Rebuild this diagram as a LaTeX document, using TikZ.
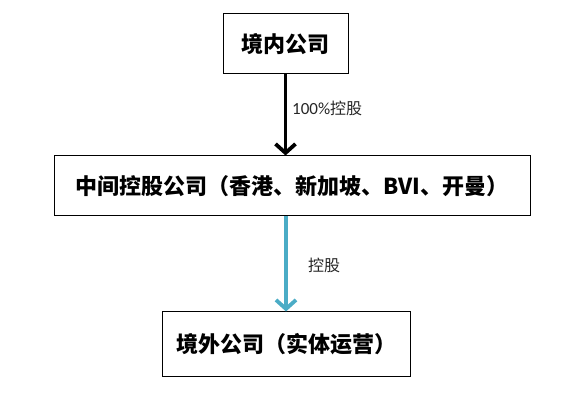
\documentclass[tikz,border=0pt]{standalone}
\usepackage{fontspec}
\setmainfont{Carlito}
\newfontfamily\cjk{Noto Sans CJK SC}
\usetikzlibrary{positioning, arrows.meta}

\definecolor{linkBlue}{HTML}{4BACC6}

\begin{document}
\begin{tikzpicture}[
    x=1pt, y=1pt,
    % Global Styles
    font=\cjk,
    % The company boxes
    company/.style={
        draw=black,
        line width=1pt,
        fill=white,
        inner sep=0pt,
        font=\cjk\bfseries\fontsize{22}{26}\selectfont
    },
    % Ownership arrows
    holding/.style={
        line width=3.8pt,
        -{Straight Barb[length=9pt, width=20pt]}
    },
    % Share labels on the arrows
    share/.style={
        anchor=west,
        inner sep=0pt,
        text=black!85,
        font=\fontsize{16}{18}\selectfont
    }
]

    % --- Canvas ---
    \useasboundingbox (0,0) rectangle (579,395);

    % --- Companies ---
    \node[company, minimum width=125pt, minimum height=60pt] (onshore) at (285.5,351) {境内公司};
    \node[company, minimum width=476pt, minimum height=60pt] (holdco) at (292,209) {中间控股公司（香港、新加坡、BVI、开曼）};
    \node[company, minimum width=248pt, minimum height=65pt] (offshore) at (286,50.5) {境外公司（实体运营）};

    % --- Ownership links ---
    \draw[holding, black] (onshore) -- (onshore |- holdco.north);
    \draw[holding, linkBlue] (offshore |- holdco.south) -- (offshore);

    % --- Labels ---
    \node[share] (full) at (292,287) {{\fontsize{17}{18}\selectfont 100\%}{\cjk 控股}};
    \node[share] (part) at (308,130) {\cjk 控股};

\end{tikzpicture}
\end{document}
